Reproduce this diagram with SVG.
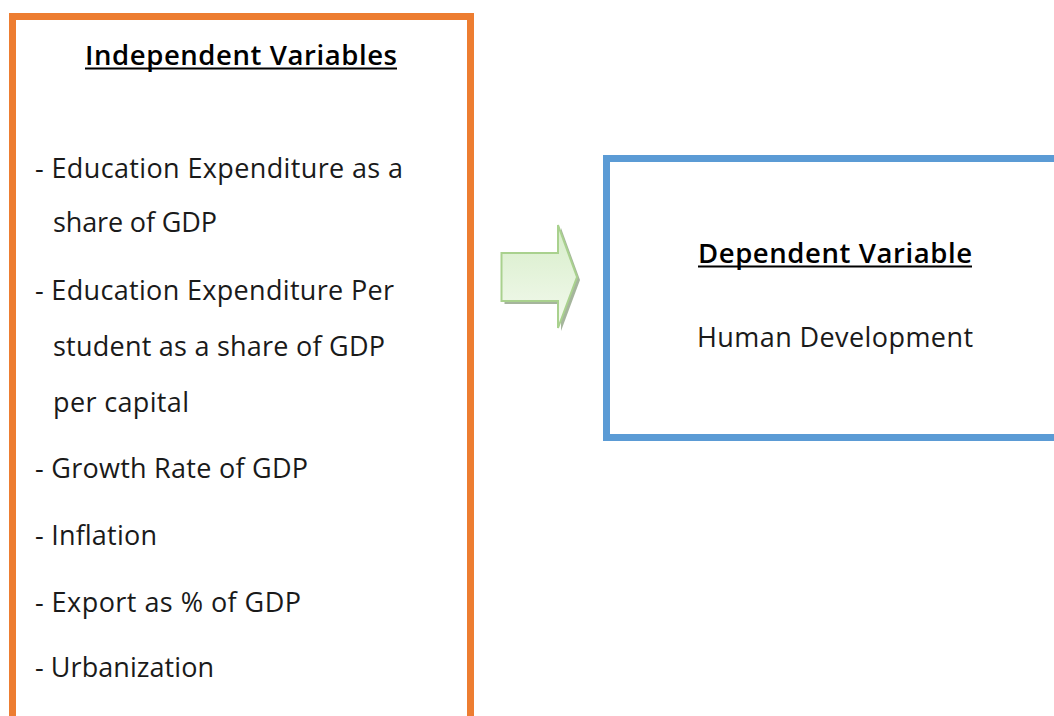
<svg xmlns="http://www.w3.org/2000/svg" width="1054" height="716" viewBox="0 0 1054 716">
<style>
.t{font-family:"Open Sans","Noto Sans",sans-serif;font-size:27px;fill:#1a1a1a}
.h{font-family:"Open Sans","Noto Sans",sans-serif;font-size:27.5px;fill:#000;font-weight:600}
.u{fill:#000}
</style>
<defs>
<linearGradient id="ag" x1="0" y1="0" x2="0" y2="1">
<stop offset="0" stop-color="#d6edc8"/>
<stop offset="1" stop-color="#f4faef"/>
</linearGradient>
</defs>
<rect width="1054" height="716" fill="#fff"/>
<g id="independent">
<rect x="12.5" y="16.5" width="458" height="720" fill="#fff" stroke="#ed7d31" stroke-width="7"/>
<text class="h" x="85" y="65" textLength="312" lengthAdjust="spacing">Independent Variables</text>
<rect class="u" x="85" y="67.5" width="312" height="2"/>
<text class="t" x="35" y="178" textLength="368" lengthAdjust="spacing">- Education Expenditure as a</text>
<text class="t" x="53" y="232" textLength="164" lengthAdjust="spacing">share of GDP</text>
<text class="t" x="35" y="300" textLength="359" lengthAdjust="spacing">- Education Expenditure Per</text>
<text class="t" x="53" y="356" textLength="332" lengthAdjust="spacing">student as a share of GDP</text>
<text class="t" x="53" y="412" textLength="136" lengthAdjust="spacing">per capital</text>
<text class="t" x="35" y="478" textLength="273" lengthAdjust="spacing">- Growth Rate of GDP</text>
<text class="t" x="35" y="545" textLength="122" lengthAdjust="spacing">- Inflation</text>
<text class="t" x="35" y="612" textLength="266" lengthAdjust="spacing">- Export as % of GDP</text>
<text class="t" x="35" y="677" textLength="179" lengthAdjust="spacing">- Urbanization</text>
</g>
<g id="connectors">
<path d="M504.5,256 L561,256 L561,228 L580,280 L561,331 L561,304 L504.5,304 Z" fill="#8fa383" opacity="0.8"/>
<path d="M501.5,253 L558,253 L558,225 L577,277 L558,328 L558,301 L501.5,301 Z" fill="url(#ag)" stroke="#a9d18e" stroke-width="2"/>
</g>
<g id="dependent">
<rect x="606.5" y="158.5" width="470" height="279" fill="#fff" stroke="#5b9bd5" stroke-width="7"/>
<text class="h" x="698" y="263" textLength="274" lengthAdjust="spacing">Dependent Variable</text>
<rect class="u" x="698" y="265.5" width="274" height="2"/>
<text class="t" x="697" y="347" textLength="276" lengthAdjust="spacing">Human Development</text>
</g>
</svg>
